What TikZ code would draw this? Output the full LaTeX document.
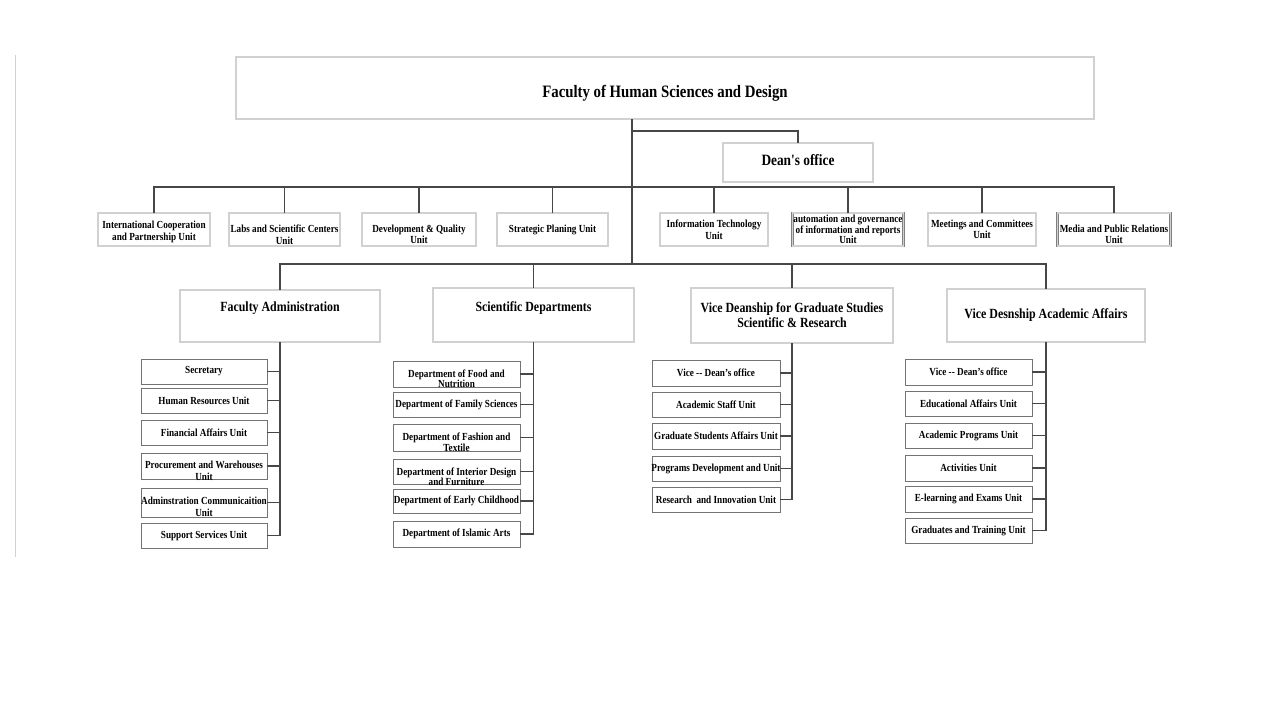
\documentclass[tikz,border=0pt]{standalone}
\usepackage{fontspec}
\setmainfont{Liberation Serif}
\newfontfamily\condf[FakeStretch=0.85]{Liberation Serif}
\usetikzlibrary{calc}
\tikzset{
  box/.style={draw=black!50, double=black!18, double distance=1.3pt, line width=0.7pt, inner sep=0pt, outer sep=0pt},
  sbox/.style={draw=black!55, line width=0.9pt, inner sep=0pt, outer sep=0pt},
  txt/.style={align=center, inner sep=0pt, text=black},
  conn/.style={draw=black!72, line width=1.8pt},
  ttl/.style={font=\condf\bfseries\fontsize{17.4}{19}\selectfont},
  dn/.style={font=\condf\bfseries\fontsize{15.7}{17}\selectfont},
  md/.style={font=\condf\bfseries\fontsize{14}{15}\selectfont},
  sm/.style={font=\condf\bfseries\fontsize{10.8}{11.5}\selectfont},
  smt/.style={font=\condf\bfseries\fontsize{10.8}{10.5}\selectfont}
}
% name, cx, cy, w, h, dy, text style, text   (box style set by \bstyle)
\newcommand{\bstyle}{box}
\newcommand{\mkbox}[8]{%
  \node[\bstyle, minimum width=#4pt, minimum height=#5pt] (#1) at (#2,#3) {};
  \node[txt, #7] (#1t) at (#2,{#3+#6}) {#8};
}
\begin{document}
\begin{tikzpicture}[x=1pt,y=-1pt]
\fill[white] (0,0) rectangle (1280,720);
\useasboundingbox (0,0) rectangle (1280,720);
\draw[black!18, line width=0.6pt] (15,55) -- (15,557);

% top
\mkbox{title}{665}{88}{858}{62}{5}{ttl}{Faculty of Human Sciences and Design}
\mkbox{dean}{798}{162.5}{150}{39}{-2.5}{dn}{Dean's office}

% unit row
\mkbox{u1}{154}{229.5}{112}{33}{2.5}{sm}{International Cooperation\\and Partnership Unit}
\mkbox{u2}{284.5}{229.5}{111}{33}{5}{sm}{Labs and Scientific Centers\\Unit}
\mkbox{u3}{419}{229.5}{114}{33}{5}{sm}{Development \& Quality\\Unit}
\mkbox{u4}{552.5}{229.5}{111}{33}{0}{sm}{Strategic Planing Unit}
\mkbox{u5}{714}{229.5}{108}{33}{0}{sm}{Information Technology\\Unit}
\mkbox{u6}{848}{229.5}{111}{33}{0}{smt}{automation and governance\\of information and reports\\Unit}
\mkbox{u7}{982}{229.5}{108}{33}{0}{sm}{Meetings and Committees\\Unit}
\mkbox{u8}{1114}{229.5}{113}{33}{5}{sm}{Media and Public Relations\\Unit}

% level 2
\mkbox{fa}{280}{316}{200}{52}{-8}{md}{Faculty Administration}
\mkbox{sd}{533.5}{315}{201}{54}{-7}{md}{Scientific Departments}
\mkbox{vg}{792}{315.5}{202}{55}{0}{md}{Vice Deanship for Graduate Studies\\Scientific \& Research}
\mkbox{va}{1046}{315.5}{198}{53}{0}{md}{Vice Desnship Academic Affairs}

\renewcommand{\bstyle}{sbox}
% Faculty Administration children
\mkbox{fa1}{204}{371.5}{126}{25}{0}{sm}{Secretary}
\mkbox{fa2}{204}{400.5}{126}{25}{0}{sm}{Human Resources Unit}
\mkbox{fa3}{204}{432.5}{126}{25}{0}{sm}{Financial Affairs Unit}
\mkbox{fa4}{204}{466}{126}{26}{5}{sm}{Procurement and Warehouses\\Unit}
\mkbox{fa5}{204}{502.5}{126}{29}{4.5}{sm}{Adminstration Communicaition\\Unit}
\mkbox{fa6}{204}{535.5}{126}{25}{0}{sm}{Support Services Unit}

% Scientific Departments children
\mkbox{sd1}{456.5}{374}{127}{26}{5}{smt}{Department of Food and\\Nutrition}
\mkbox{sd2}{456.5}{404.5}{127}{25}{0}{sm}{Department of Family Sciences}
\mkbox{sd3}{456.5}{437.5}{127}{27}{4.5}{smt}{Department of Fashion and\\Textile}
\mkbox{sd4}{456.5}{471.5}{127}{25}{5.5}{smt}{Department of Interior Design\\and Furniture}
\mkbox{sd5}{456.5}{501}{127}{24}{0}{sm}{Department of Early Childhood}
\mkbox{sd6}{456.5}{534}{127}{26}{0}{sm}{Department of Islamic Arts}

% Vice Deanship Graduate children
\mkbox{vg1}{716}{373}{128}{26}{0}{sm}{Vice -- Dean’s office}
\mkbox{vg2}{716}{404.5}{128}{25}{0}{sm}{Academic Staff Unit}
\mkbox{vg3}{716}{436}{128}{26}{0}{sm}{Graduate Students Affairs Unit}
\mkbox{vg4}{716}{468.5}{128}{25}{0}{sm}{Programs Development and Unit}
\mkbox{vg5}{716}{499.5}{128}{25}{0}{sm}{Research\ \ and Innovation Unit}

% Vice Desnship Academic children
\mkbox{va1}{968.5}{372}{127}{26}{0}{sm}{Vice -- Dean’s office}
\mkbox{va2}{968.5}{403.5}{127}{25}{0}{sm}{Educational Affairs Unit}
\mkbox{va3}{968.5}{435.5}{127}{25}{0}{sm}{Academic Programs Unit}
\mkbox{va4}{968.5}{468}{127}{26}{0}{sm}{Activities Unit}
\mkbox{va5}{968.5}{499}{127}{26}{0}{sm}{E-learning and Exams Unit}
\mkbox{va6}{968.5}{530.5}{127}{25}{0}{sm}{Graduates and Training Unit}

% connectors
\coordinate (hub1) at (632,187);
\coordinate (hub2) at (632,264);
\coordinate (dj) at (632,131);
\draw[conn] (title.south -| hub1) -- (hub2);
\draw[conn] (dj) -| (dean.north);
\foreach \u in {u1,u2,u3,u4,u5,u6,u7,u8}{
  \draw[conn] (\u.north) |- (hub1);
}
\foreach \p in {fa,sd,vg,va}{
  \draw[conn] (\p.north) |- (hub2);
}
\draw[conn] (fa.south) |- (fa6.east);
\foreach \c in {fa1,fa2,fa3,fa4,fa5}{\draw[conn] (\c.east) -- (\c.east -| fa.south);}
\draw[conn] (sd.south) |- (sd6.east);
\foreach \c in {sd1,sd2,sd3,sd4,sd5}{\draw[conn] (\c.east) -- (\c.east -| sd.south);}
\draw[conn] (vg.south) |- (vg5.east);
\foreach \c in {vg1,vg2,vg3,vg4}{\draw[conn] (\c.east) -- (\c.east -| vg.south);}
\draw[conn] (va.south) |- (va6.east);
\foreach \c in {va1,va2,va3,va4,va5}{\draw[conn] (\c.east) -- (\c.east -| va.south);}
\end{tikzpicture}
\end{document}
